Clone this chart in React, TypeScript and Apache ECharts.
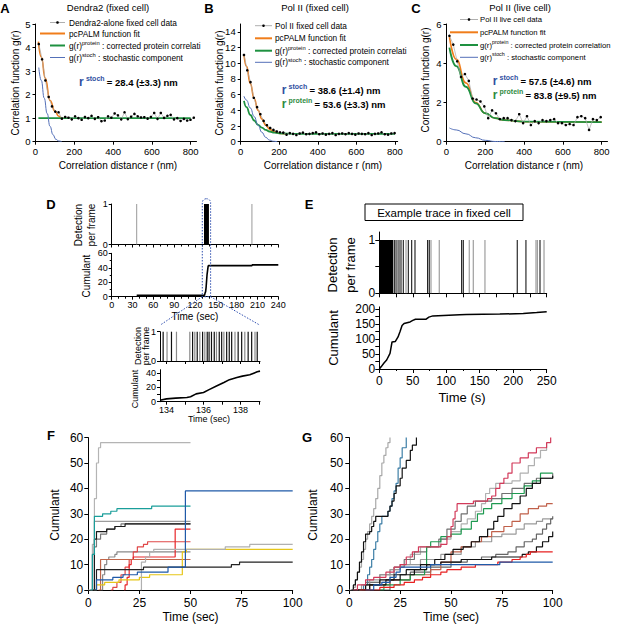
import React, { useEffect, useRef } from "react";
import * as echarts from "echarts";

const FONT = "'Liberation Sans', Arial, Helvetica, sans-serif";
const ORANGE = "#f07d1a";
const GREEN = "#1e9140";
const BLUEFIT = "#5470b8";
const ANN_BLUE = "#2f4f9f";
const ANN_GREEN = "#2e8b3f";
const ZOOMBLUE = "#3050b0";

// ---------- Panel A: Dendra2 (fixed cell) ----------
const aR = [17,34,51,68,85,102,119,136,153,170,187,204,221,238,255,272,289,306,323,340,357,374,391,408,425,442,459,476,493,510,527,544,561,578,595,612,629,646,663,680,697,714,731,748,765,782,799,816];
const aG = [4.15,3.5,2.6,1.9,1.5,1.28,1.25,0.98,1.05,1.02,0.95,1.08,1.0,0.93,1.05,1.0,1.1,0.97,1.04,0.87,0.9,1.08,1.02,1.2,1.12,0.95,1.25,0.96,1.06,1.18,1.08,1.03,1.04,0.98,1.05,1.22,0.97,1.22,1.01,1.1,1.14,0.95,1.0,0.88,0.97,0.9,0.93,1.02];
const aFit = [[15,4.25],[30,3.6],[50,2.7],[75,1.75],[100,1.3],[120,1.08],[135,1.0],[160,1.0]];
const aProtein = [[15,1],[800,1]];
const aStoch = [[17,3.15],[30,2.6],[45,1.85],[60,1.2],[75,0.65],[90,0.3],[105,0.1],[120,0.03],[135,0]];

// ---------- Panel B: Pol II (fixed cell) ----------
const bR = [17,34,51,68,85,102,119,136,153,170,187,204,221,238,255,272,289,306,323,340,357,374,391,408,425,442,459,476,493,510,527,544,561,578,595,612,629,646,663,680,697,714,731,748,765,782,799];
const bG = [11.05,9.1,7.6,5.6,4.4,3.5,2.65,2.1,1.75,1.5,1.3,1.2,1.15,0.9,1.1,1.0,0.85,1.05,1.15,0.95,1.0,1.1,1.2,0.95,1.05,0.9,1.0,1.1,0.85,1.0,1.05,0.95,1.1,1.0,0.9,1.05,1.0,0.95,1.1,0.85,1.0,1.05,1.2,0.95,0.9,1.05,1.1];
const bFit = [[17,11.1],[30,9.6],[50,7.4],[70,5.5],[90,4.0],[110,2.9],[130,2.1],[150,1.6],[170,1.3],[190,1.12],[210,1.04],[240,1.0]];
const bProtein = [[17,5.2],[30,4.4],[50,3.4],[70,2.7],[90,2.15],[110,1.8],[130,1.5],[150,1.3],[175,1.15],[200,1.07],[250,1.02],[300,1.0],[800,1.0]];
const bStoch = [[17,5.8],[30,5.3],[50,4.3],[70,3.2],[90,2.1],[110,1.2],[130,0.55],[150,0.2],[170,0.05],[190,0]];

// ---------- Panel C: Pol II (live cell) ----------
const cR = [15,35,55,75,95,115,135,155,175,195,215,235,255,275,295,315,335,355,375,395,415,435,455,475,495,515,535,555,575,595,615,635,655,675,695,715,735,755,775,795];
const cG = [5.4,4.95,4.1,3.3,3.45,3.1,2.2,2.15,2.05,1.8,1.2,1.6,1.45,1.15,1.2,1.2,1.1,1.05,1.4,0.95,1.3,0.85,1.05,0.95,1.1,1.05,1.1,1.15,0.95,0.95,0.85,0.9,0.85,1.25,1.3,1.2,0.6,1.15,1.1,1.25];
const cFit = [[15,5.35],[50,4.2],[100,3.0],[150,2.0],[200,1.45],[250,1.2],[300,1.1],[400,1.02],[800,1.0]];
const cProtein = [[15,4.8],[50,3.85],[100,2.8],[150,1.95],[200,1.45],[250,1.2],[300,1.1],[400,1.02],[800,1.0]];
const cStoch = [[15,0.7],[50,0.6],[100,0.4],[150,0.2],[200,0.07],[250,0.01],[300,0]];

// ---------- Panel D ----------
const dGreyT = [36, 202];
const insetBlackT = [133.82,134.27,135.41,135.66,135.95,136.2,136.3,136.43,136.58,136.85,136.98,137.25,137.39,137.52,137.87,138.06,138.41,138.6,138.9];
const insetGreyT = [134.03,134.54,135.26,135.53,135.8,136.07,136.7,137.1,137.7,138.23,138.78];
const dCumT = [36,133.7,134.5,135.3,136.0,136.7,137.4,138.1,138.9,139.2,202,202.5,240];
const dCumV = [2,2,5,7,13,22,31,36,42,43,43,44,44];
const insetCumT = [133.65,134.0,134.5,135.1,135.3,135.6,136.0,136.3,136.7,137.1,137.4,137.8,138.1,138.5,138.9,139.05];
const insetCumV = [2,4,5,6,7,11,13,17,22,27,31,34,36,38,42,43];
const insetRange = [133.65, 139.05];
const zoomBox = [130.5, 142.5];

// ---------- Panel E ----------
const eBlackT = [0.5,1,1.5,2,2.5,3,3.5,4,4.5,5,5.5,6,6.5,7,7.5,8,8.5,9,9.5,10,10.5,11,11.5,12,12.5,13,13.5,14,14.5,15,15.5,16,16.5,17,17.5,18,18.5,19,19.5,20,22.4,25,29.4,32.4,35.8,43.3,48.4,53.3,72.2,74.6,123,125.4,206,219,240];
const eGreyT = [27,39.9,77.2,89.5,134.3,140.3,157.8,234,236,246];
const eCumT = [0,3,7,11,16,19,24,28,31,34,37,46,50,54,70,74,80,120,130,180,215,235,250];
const eCumV = [0,8,20,30,52,90,92,107,125,145,152,157,162,166,166,173,177,181,182,183,185,188,191];

// ---------- Panel F (time sec, cumulant) ----------
const fLightGrey = [[0,0],[1,0],[2,18],[3,36],[4,50],[5,56],[6,58],[50,58]];
const fTeal = [[1,0],[2,14],[3,29],[7,30],[11,31],[14,32],[31,33],[50,33]];
const fBlue = [[3,0],[4,4],[12,5],[17,6],[24,7],[39,9],[47.5,39],[100,39]];
const fGreyA = [[1,0],[2,14],[3,27],[50,27]];
const fDarkGrey = [[2,0],[3,17],[4,20],[6,22],[9,24],[13,25],[16,26],[50,26]];
const fBlack = [[2,0],[3,20],[4,23],[9,24],[13,25],[18,26],[50,26]];
const fGreyB = [[6,0],[7,6],[8,10],[9,12],[10,13],[13,14],[14,15],[50,15]];
const fRed1 = [[17.5,0],[18,2],[19,5],[20,10],[21,12],[22,13],[42.5,24],[50,24]];
const fRed2 = [[11,0],[12,1],[14,3],[16,6],[18,9],[20,12],[22,15],[24,17],[27,18],[29,19],[50,19]];
const fBrown = [[5,0],[6,12],[50,12]];
const fYellow = [[3,0],[4,2],[8,3],[15,4],[25,5],[30,6],[46,15],[48,16],[100,16]];
const fLightGrey2 = [[25.5,0],[26,11],[28,13],[30,15],[32,16],[67,17],[79,18],[100,18]];
const fBlack2 = [[3,0],[4,8],[27,9],[70,10],[74,11],[100,11]];

// ---------- Panel G ----------
const gLightGrey = [[0,0],[2,1],[3,4],[4,7],[5,9],[6,12],[7,16],[8,20],[9,23],[10,26],[11,29],[12,32],[13,36],[14,40],[15,45],[16,50],[17,53],[18,56],[19,58],[20,60]];
const gBlackFast = [[1,0],[2,2],[3,4],[4,7],[5,11],[6,15],[7,19],[8,22],[10,23],[11,25],[12,27],[13,29],[18,29],[19,31],[20,33],[21,35],[22,38],[23,41],[25,44],[26,48],[28,51],[30,55],[31,57],[33,60]];
const gSteel = [[5,0],[7,2],[9,6],[10,9],[11,12],[12,16],[13,19],[14,23],[15,26],[16,29],[19,31],[20,33],[21,36],[22,39],[23,42],[24,48],[25,52],[26,56],[28,60]];
const gCrimson = [[2,0],[4,2],[8,4],[12,5],[18,7],[22,9],[25,10],[28,13],[31,15],[34,17],[45,18],[48,21],[50,25],[51,28],[52,31],[53,34],[61,35],[68,36],[70,37],[72,40],[74,42],[76,44],[78,46],[80,50],[84,52],[88,54],[92,56],[97,58],[99,60]];
const gLightGrey2 = [[5,0],[10,3],[20,8],[25,10],[30,14],[35,17],[45,20],[50,23],[55,26],[58,28],[62,31],[65,34],[67,38],[69,40],[72,42],[80,43],[84,46],[88,49],[91,52],[94,55],[97,58]];
const gDarkGrey = [[3,0],[8,3],[15,6],[22,9],[27,12],[32,15],[38,17],[44,20],[48,24],[52,27],[55,30],[58,33],[62,35],[70,36],[75,38],[80,40],[86,42],[92,44],[100,46]];
const gBlackSlow = [[2,0],[8,2],[15,4],[22,6],[28,8],[35,10],[42,12],[47,14],[51,16],[56,17],[60,19],[64,21],[68,24],[71,27],[73,29],[76,32],[80,34],[84,37],[87,40],[90,42],[94,44],[100,45]];
const gGreen = [[15,0],[17,2],[25,4],[30,6],[37,8],[38,17],[40,19],[45,21],[50,22],[55,24],[60,27],[63,30],[66,32],[70,34],[75,36],[80,38],[86,41],[90,43],[94,46],[100,46]];
const gBrown = [[5,0],[10,2],[20,4],[30,6],[40,8],[45,11],[50,15],[55,17],[60,19],[65,21],[70,23],[76,25],[80,27],[84,30],[88,32],[93,33],[97,34],[100,34]];
const gGrey = [[2,0],[6,2],[10,4],[15,6],[20,8],[25,10],[35,12],[45,14],[55,17],[62,19],[70,21],[75,22],[82,24],[86,26],[92,27],[95,28],[100,28]];
const gDarkGrey2 = [[10,0],[20,4],[30,7],[40,9],[50,11],[58,12],[65,13],[72,14],[78,15],[82,17],[86,19],[90,20],[92,22],[95,24],[97,26],[99,28],[100,29]];
const gBlack3 = [[3,0],[10,2],[18,4],[25,6],[32,8],[38,10],[45,11],[55,12],[70,13],[85,14],[88,15],[92,17],[95,19],[98,21],[100,23]];
const gRed = [[5,0],[15,1],[22,2],[27,3],[32,4],[36,5],[40,6],[45,7],[48,8],[55,9],[62,10],[73,11],[80,12],[84,13],[87,14],[89,15],[100,15]];
const gBlue = [[8,0],[12,2],[16,3],[20,5],[23,7],[25,9],[35,9],[40,10],[50,10],[74,11],[100,11]];

// ---------- helpers ----------
function ax(grid: number, min: number, max: number, o: any = {}) {
  const a: any = {
    type: "value", gridIndex: grid, min, max,
    splitLine: { show: false },
    axisLine: { show: true, onZero: false, lineStyle: { color: "#000", width: 1 } },
    axisTick: { show: true, length: o.tickLen ?? 3, lineStyle: { color: "#000", width: 1 } },
    axisLabel: { show: o.labels !== false, color: "#000", fontSize: o.fs ?? 9, fontFamily: FONT, margin: o.margin ?? 4 },
    minorTick: { show: !!o.minor, splitNumber: o.minor ?? 5, length: 2, lineStyle: { color: "#000", width: 1 } },
  };
  if (o.interval) a.interval = o.interval;
  if (Array.isArray(o.labels)) a.axisLabel.customValues = o.labels;
  if (o.ticks) a.axisTick.customValues = o.ticks;
  return a;
}
const pairs = (xs: number[], ys: number[]) => xs.map((x, i) => [x, ys[i]]);
const lineS = (g: number, data: any[], color: string, width: number, extra: any = {}) => ({
  type: "line", xAxisIndex: g, yAxisIndex: g, data, symbol: "none", silent: true,
  lineStyle: { color, width }, ...extra,
});
const dotS = (g: number, xs: number[], ys: number[]) => ({
  type: "line", xAxisIndex: g, yAxisIndex: g, data: pairs(xs, ys), symbol: "circle", symbolSize: 2.6,
  showSymbol: true, silent: true, itemStyle: { color: "#000" }, lineStyle: { color: "#a8a8a8", width: 0.7 }, z: 5,
});
const barS = (g: number, ts: number[], color: string, w = 1) => ({
  type: "bar", xAxisIndex: g, yAxisIndex: g, data: ts.map((t) => [t, 1]), barWidth: w, barGap: "-100%",
  itemStyle: { color }, silent: true,
});
const stepS = (g: number, data: any[], color: string) => lineS(g, data, color, 1.2, { step: "end" });
const fitS = (g: number, data: any[], color: string, w: number) => lineS(g, data, color, w, { smooth: true, smoothMonotone: "x" });

const T = (x: number, y: number, text: string, fs: number, o: any = {}) => ({
  type: "text", x, y, silent: true, rotation: o.rot ?? 0, z: 100,
  style: {
    text, fontSize: fs, fontFamily: FONT, fill: o.fill ?? "#000",
    fontWeight: o.bold ? "bold" : "normal", align: o.align ?? "center", verticalAlign: "middle",
    rich: o.rich,
  },
});
const L = (x1: number, y1: number, x2: number, y2: number, stroke: string, w: number, dash?: number[]) => ({
  type: "line", silent: true, z: 100, shape: { x1, y1, x2, y2 }, style: { stroke, lineWidth: w, lineDash: dash },
});
const legRich = (fs: number) => ({
  n: { fontSize: fs, fontFamily: FONT, fill: "#000", lineHeight: 11 },
  s: { fontSize: fs * 0.7, fontFamily: FONT, fill: "#000", verticalAlign: "top", lineHeight: 6 },
});
function legend(x0: number, x1: number, xo: number, tx: number, ys: number[], label1: string, label3: string, fs = 8.3) {
  const els: any[] = [];
  els.push(L(x0, ys[0], x1, ys[0], "#9a9a9a", 0.8));
  els.push({ type: "circle", silent: true, z: 100, shape: { cx: (x0 + x1) / 2, cy: ys[0], r: 1.3 }, style: { fill: "#000" } });
  els.push(L(xo, ys[1], x1, ys[1], ORANGE, 2));
  els.push(L(x0, ys[2], x1, ys[2], GREEN, 2));
  els.push(L(x0, ys[3], x1, ys[3], BLUEFIT, 1));
  els.push(T(tx, ys[0], label1, fs, { align: "left" }));
  els.push(T(tx, ys[1], "pcPALM function fit", fs, { align: "left" }));
  els.push(T(tx, ys[2], `{n|g(r)}{s|protein}{n| : ${label3}}`, fs, { align: "left", rich: legRich(fs) }));
  els.push(T(tx, ys[3], "{n|g(r)}{s|stoch}{n| : stochastic component}", fs, { align: "left", rich: legRich(fs) }));
  return els;
}
function annot(x: number, y: number, sup: string, value: string, color: string) {
  const rich = {
    r: { fontSize: 12, fill: color, lineHeight: 15, fontFamily: FONT, fontWeight: "bold" },
    s: { fontSize: 7, fill: color, verticalAlign: "top", lineHeight: 8, fontFamily: FONT, fontWeight: "bold" },
    t: { fontSize: 9.5, fill: "#000", lineHeight: 15, fontFamily: FONT, fontWeight: "bold" },
  };
  return T(x, y, `{r|r} {s|${sup}} {t|= ${value}}`, 8, { align: "left", rich, bold: true });
}

export default function App() {
  const ref = useRef<HTMLDivElement>(null);
  useEffect(() => {
    const chart = echarts.init(ref.current!, undefined, { renderer: "svg" });
    const grids = [
      { left: 35.5, top: 24, width: 161, height: 117.7 },
      { left: 240.7, top: 24, width: 157, height: 117.7 },
      { left: 446.5, top: 24, width: 161, height: 117.7 },
      { left: 111.7, top: 204, width: 166.6, height: 40.5 },
      { left: 111.7, top: 253.3, width: 166.6, height: 43.4 },
      { left: 160, top: 331.7, width: 100, height: 29.3 },
      { left: 160, top: 369.7, width: 100, height: 32 },
      { left: 379.3, top: 232, width: 167.4, height: 61.3 },
      { left: 379.3, top: 306.9, width: 167.4, height: 62.1 },
      { left: 88.3, top: 437.6, width: 204.4, height: 152.4 },
      { left: 349.3, top: 437.6, width: 203.4, height: 152.4 },
    ].map((g) => ({ ...g, containLabel: false, outerBoundsMode: "none", show: false }));
    const xl = [0, 200, 400, 600, 800];
    const option: any = {
      animation: false,
      textStyle: { fontFamily: FONT },
      grid: grids,
      xAxis: [
        ax(0, 0, 830, { labels: xl, ticks: xl, fs: 9.5, margin: 5 }),
        ax(1, 0, 815, { labels: xl, ticks: xl, fs: 9.5, margin: 5 }),
        ax(2, 0, 830, { labels: xl, ticks: xl, fs: 9.5, margin: 5 }),
        ax(3, 0, 240, { interval: 30, labels: false, minor: 3 }),
        ax(4, 0, 240, { interval: 30, fs: 9, minor: 3, margin: 4 }),
        ax(5, insetRange[0], insetRange[1], { labels: false, ticks: [134, 135, 136, 137, 138, 139] }),
        ax(6, insetRange[0], insetRange[1], { labels: [134, 136, 138], ticks: [134, 135, 136, 137, 138, 139], fs: 9 }),
        ax(7, 0, 250, { interval: 25, labels: false, tickLen: 4 }),
        ax(8, 0, 250, { interval: 50, fs: 12, minor: 2, tickLen: 4, margin: 6 }),
        ax(9, 0, 100, { interval: 25, fs: 12, tickLen: 4, margin: 7 }),
        ax(10, 0, 100, { interval: 25, fs: 12, tickLen: 4, margin: 7 }),
      ],
      yAxis: [
        ax(0, 0, 5, { interval: 1, fs: 9.5, margin: 5 }),
        ax(1, 0, 15, { labels: [0, 2, 4, 6, 8, 10, 12, 14], ticks: [0, 2, 4, 6, 8, 10, 12, 14], fs: 9.5, margin: 5 }),
        ax(2, 0, 6, { interval: 2, fs: 9.5, margin: 5 }),
        ax(3, 0, 1, { interval: 1, fs: 9 }),
        ax(4, 0, 60, { interval: 20, fs: 9, minor: 2 }),
        ax(5, 0, 1, { interval: 1, fs: 9 }),
        ax(6, 0, 45, { labels: [0, 20, 40], ticks: [0, 10, 20, 30, 40], fs: 9 }),
        ax(7, 0, 1.15, { labels: [0, 1], ticks: [0, 0.5, 1], fs: 12, tickLen: 4 }),
        ax(8, 0, 207, { labels: [0, 50, 100, 150, 200], ticks: [0, 25, 50, 75, 100, 125, 150, 175, 200], fs: 12, tickLen: 4 }),
        ax(9, 0, 60, { interval: 10, fs: 12, tickLen: 4, margin: 5 }),
        ax(10, 0, 60, { interval: 10, fs: 12, tickLen: 4, margin: 6 }),
      ],
      series: [
        fitS(0, aFit, ORANGE, 1.6), fitS(0, aProtein, GREEN, 1.8), fitS(0, aStoch, BLUEFIT, 1), dotS(0, aR, aG),
        fitS(1, bFit, ORANGE, 1.6), fitS(1, bProtein, GREEN, 1.8), fitS(1, bStoch, BLUEFIT, 1), dotS(1, bR, bG),
        fitS(2, cFit, ORANGE, 1.6), fitS(2, cProtein, GREEN, 1.8), fitS(2, cStoch, BLUEFIT, 1), dotS(2, cR, cG),
        barS(3, dGreyT, "#999999", 1),
        barS(3, [...insetBlackT, ...insetGreyT], "#000000", 1),
        lineS(4, pairs(dCumT, dCumV), "#000", 1.6),
        barS(5, insetGreyT, "#8a8a8a", 1.2),
        barS(5, insetBlackT, "#111111", 1.2),
        lineS(6, pairs(insetCumT, insetCumV), "#000", 1.6),
        barS(7, eBlackT, "#000000", 1),
        barS(7, eGreyT, "#8a8a8a", 1),
        lineS(8, pairs(eCumT, eCumV), "#000", 1.5),
        stepS(9, fLightGrey, "#b4b4b4"), stepS(9, fGreyA, "#9c9c9c"), stepS(9, fDarkGrey, "#777777"),
        stepS(9, fBlack, "#1a1a1a"), stepS(9, fTeal, "#1a9e9a"), stepS(9, fGreyB, "#8a8a8a"),
        stepS(9, fRed2, "#e04848"), stepS(9, fRed1, "#e8262a"), stepS(9, fBrown, "#c0664a"),
        stepS(9, fYellow, "#e6c619"), stepS(9, fLightGrey2, "#b0b0b0"), stepS(9, fBlack2, "#222222"),
        stepS(9, fBlue, "#1f5aa8"),
        stepS(10, gLightGrey, "#a8a8a8"), stepS(10, gSteel, "#3d7ea6"), stepS(10, gBlackFast, "#111111"),
        stepS(10, gLightGrey2, "#b0b0b0"), stepS(10, gDarkGrey, "#707070"), stepS(10, gGrey, "#9a9a9a"),
        stepS(10, gDarkGrey2, "#666666"), stepS(10, gBrown, "#c0604a"), stepS(10, gGreen, "#1e9a50"),
        stepS(10, gBlackSlow, "#111111"), stepS(10, gBlack3, "#111111"), stepS(10, gRed, "#e82020"),
        stepS(10, gBlue, "#1f5aa8"), stepS(10, gCrimson, "#d23a5a"),
      ],
    };
    chart.setOption(option);

    const tl = chart.convertToPixel({ gridIndex: 3 } as any, [zoomBox[0], 1.13]) as number[];
    const tr = chart.convertToPixel({ gridIndex: 3 } as any, [zoomBox[1], 1.13]) as number[];
    const bl = chart.convertToPixel({ gridIndex: 4 } as any, [zoomBox[0], 0]) as number[];
    const il = chart.convertToPixel({ gridIndex: 5 } as any, [insetRange[0], 1.22]) as number[];
    const ir = chart.convertToPixel({ gridIndex: 5 } as any, [insetRange[1], 1.22]) as number[];
    const dash = [1.5, 1.5];

    const g: any[] = [
      // panel letters
      T(5, 8, "A", 13, { bold: true }), T(209, 8, "B", 13, { bold: true }), T(416, 8, "C", 13, { bold: true }),
      T(51, 204, "D", 13, { bold: true }), T(309, 204, "E", 13, { bold: true }),
      T(51, 435, "F", 13, { bold: true }), T(307, 437, "G", 13, { bold: true }),
      // titles
      T(108, 7, "Dendra2 (fixed cell)", 9.5), T(315, 7, "Pol II (fixed cell)", 9.5), T(520, 7, "Pol II (live cell)", 9.5),
      // axis names A-C
      T(118, 165, "Correlation distance r (nm)", 10), T(323, 165, "Correlation distance r (nm)", 10), T(524, 165, "Correlation distance r (nm)", 10),
      T(15, 83, "Correlation function g(r)", 10, { rot: Math.PI / 2 }),
      T(219, 83, "Correlation function g(r)", 10, { rot: Math.PI / 2 }),
      T(425, 80, "Correlation function g(r)", 10, { rot: Math.PI / 2 }),
      // legends
      ...legend(50, 65, 40, 69, [22.5, 33.5, 45.5, 57.5], "Dendra2-alone fixed cell data", "corrected protein correlati"),
      ...legend(255, 272, 255, 275, [25.7, 38.3, 50.7, 62.3], "Pol II fixed cell data", "corrected protein correlati"),
      ...legend(460, 478, 450, 480, [19.5, 32.3, 45, 57.3], "Pol II live cell data", "corrected protein correlation", 7.7),
      // annotations
      annot(79, 82, "stoch", "28.4 (±3.3) nm", ANN_BLUE),
      annot(281.7, 90, "stoch", "38.6 (±1.4) nm", ANN_BLUE),
      annot(281.7, 104, "protein", "53.6 (±3.3) nm", ANN_GREEN),
      annot(492.7, 81, "stoch", "57.5 (±4.6) nm", ANN_BLUE),
      annot(492.7, 95, "protein", "83.8 (±9.5) nm", ANN_GREEN),
      // D axis names
      T(78, 225, "Detection", 10, { rot: Math.PI / 2 }), T(91, 225, "per frame", 10, { rot: Math.PI / 2 }),
      T(86, 276, "Cumulant", 10, { rot: Math.PI / 2 }), T(195, 316, "Time (sec)", 10),
      T(138, 346, "Detection", 9, { rot: Math.PI / 2 }), T(146, 346, "per frame", 9, { rot: Math.PI / 2 }),
      T(135, 389, "Cumulant", 9, { rot: Math.PI / 2 }), T(209, 419, "Time (sec)", 9),
      // D zoom marks
      { type: "rect", silent: true, z: 90, shape: { x: tl[0], y: tl[1], width: tr[0] - tl[0], height: bl[1] - tl[1], r: [4, 4, 0, 0] },
        style: { fill: "none", stroke: ZOOMBLUE, lineWidth: 1, lineDash: dash } },
      L(tl[0], bl[1], il[0], il[1], ZOOMBLUE, 1, dash),
      L(tr[0], bl[1], ir[0], ir[1], ZOOMBLUE, 1, dash),
      // E
      { type: "rect", silent: true, z: 90, shape: { x: 365, y: 204, width: 158, height: 16.5 }, style: { fill: "#fff", stroke: "#000", lineWidth: 1 } },
      T(444, 212.5, "Example trace in fixed cell", 11.5),
      T(332, 265, "Detection", 13, { rot: Math.PI / 2 }), T(350, 265, "per frame", 13, { rot: Math.PI / 2 }),
      T(333, 338, "Cumulant", 13, { rot: Math.PI / 2 }), T(462, 397, "Time (s)", 13),
      // F / G
      T(55, 515, "Cumulant", 12, { rot: Math.PI / 2 }), T(190.5, 617, "Time (sec)", 12),
      T(313, 515, "Cumulant", 12, { rot: Math.PI / 2 }), T(451, 617, "Time (sec)", 12),
    ];
    chart.setOption({ graphic: g });
    return () => chart.dispose();
  }, []);
  return <div ref={ref} style={{ position: "absolute", left: 0, top: 0, width: 617, height: 625, background: "#fff" }} />;
}
